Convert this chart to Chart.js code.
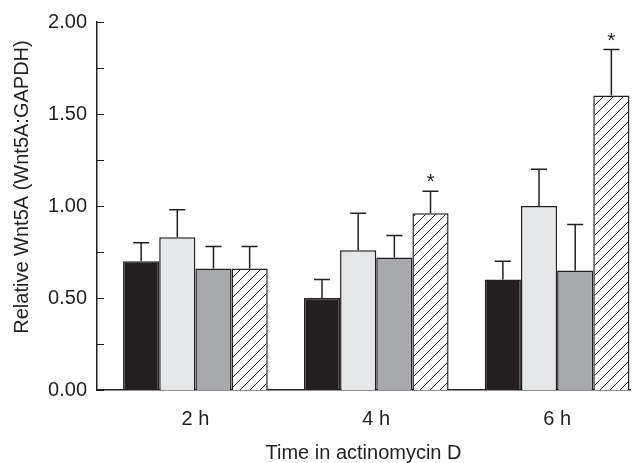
<!DOCTYPE html>
<html>
<head>
<meta charset="utf-8">
<script src="https://cdn.jsdelivr.net/npm/chart.js@4"></script>
<style>
  html, body { margin: 0; padding: 0; background: #fff; }
  #wrap { width: 638px; height: 463px; }
</style>
</head>
<body>
<div id="wrap"><canvas id="chart" width="638" height="463"></canvas></div>
<script>
// data
const categories = ['2 h', '4 h', '6 h'];
const blackVals = [0.70, 0.50, 0.60];
const blackErr = [0.10, 0.10, 0.10];
const lightVals = [0.83, 0.76, 1.00];
const lightErr = [0.15, 0.20, 0.20];
const greyVals = [0.66, 0.72, 0.65];
const greyErr = [0.12, 0.12, 0.25];
const hatchVals = [0.66, 0.96, 1.60];
const hatchErr = [0.12, 0.12, 0.25];
const hatchStars = ['', '*', '*'];

const yTitle = 'Relative Wnt5A (Wnt5A:GAPDH)';
const xTitle = 'Time in actinomycin D';

const ink = '#231f20';
const font = '"Liberation Sans", Arial, Helvetica, sans-serif';

// diagonal hatch fill
function makeHatch() {
    let c = document.createElement('canvas');
    c.width = 10;
    c.height = 10;
    let g = c.getContext('2d');
    g.fillStyle = '#fff';
    g.fillRect(0, 0, 10, 10);
    g.strokeStyle = ink;
    g.lineWidth = 1;
    g.beginPath();
    g.moveTo(0, 10); g.lineTo(10, 0);
    g.moveTo(-5, 5); g.lineTo(5, -5);
    g.moveTo(5, 15); g.lineTo(15, 5);
    g.stroke();
    return g.createPattern(c, 'repeat');
}

function series(vals) {
    return vals.map((v, i) => ({ x: i + 1, y: v }));
}

const errors = [blackErr, lightErr, greyErr, hatchErr];
const stars = [null, null, null, hatchStars];

// error bars (upper only) + significance stars
const errorBars = {
    id: 'errorBars',
    afterDatasetsDraw(chart) {
        const ctx = chart.ctx;
        const yScale = chart.scales.y;
        ctx.save();
        ctx.strokeStyle = ink;
        ctx.lineWidth = 1.5;
        chart.data.datasets.forEach((ds, di) => {
            const meta = chart.getDatasetMeta(di);
            meta.data.forEach((bar, j) => {
                const top = ds.data[j].y + errors[di][j];
                const yT = yScale.getPixelForValue(top);
                ctx.beginPath();
                ctx.moveTo(bar.x, bar.y);
                ctx.lineTo(bar.x, yT);
                ctx.moveTo(bar.x - 8, yT);
                ctx.lineTo(bar.x + 8, yT);
                ctx.stroke();
                if (stars[di] && stars[di][j]) {
                    ctx.fillStyle = ink;
                    ctx.font = '21px ' + font;
                    ctx.textAlign = 'center';
                    ctx.textBaseline = 'alphabetic';
                    ctx.fillText(stars[di][j], bar.x, yT - 3);
                }
            });
        });
        ctx.restore();
    }
};

// inward tick marks on y axis + rotated y title
const axisDecor = {
    id: 'axisDecor',
    afterDraw(chart) {
        const ctx = chart.ctx;
        const y = chart.scales.y;
        const left = chart.chartArea.left;
        ctx.save();
        ctx.strokeStyle = ink;
        ctx.lineWidth = 1.2;
        ctx.beginPath();
        y.ticks.forEach(t => {
            const py = Math.round(y.getPixelForValue(t.value)) + 0.5;
            ctx.moveTo(left, py);
            ctx.lineTo(left + 7, py);
        });
        ctx.stroke();
        ctx.translate(22, 187);
        ctx.rotate(-Math.PI / 2);
        ctx.fillStyle = ink;
        ctx.font = '20px ' + font;
        ctx.textAlign = 'center';
        ctx.textBaseline = 'middle';
        ctx.fillText(yTitle, 0, 0);
        ctx.restore();
    }
};

const hatch = makeHatch();

new Chart(document.getElementById('chart'), {
    type: 'bar',
    data: {
        datasets: [
            { data: series(blackVals), backgroundColor: ink },
            { data: series(lightVals), backgroundColor: '#e6e7e8' },
            { data: series(greyVals), backgroundColor: '#a7a9ac' },
            { data: series(hatchVals), backgroundColor: hatch }
        ]
    },
    options: {
        responsive: false,
        animation: false,
        devicePixelRatio: 1,
        layout: { padding: { top: 18, right: 8, left: 0, bottom: 0 } },
        datasets: {
            bar: {
                borderColor: ink,
                borderWidth: 1.5,
                categoryPercentage: 0.8,
                barPercentage: 1
            }
        },
        plugins: {
            legend: { display: false },
            tooltip: { enabled: false }
        },
        scales: {
            x: {
                type: 'linear',
                offset: false,
                min: 0.456,
                max: 3.403,
                grid: { display: false, drawTicks: false },
                border: { display: true, color: ink, width: 1.5 },
                afterBuildTicks: (scale) => {
                    scale.ticks = categories.map((c, i) => ({ value: i + 1 }));
                },
                afterFit: (scale) => { scale.height = 73; },
                ticks: {
                    autoSkip: false,
                    maxRotation: 0,
                    padding: 17,
                    color: ink,
                    font: { family: font, size: 20 },
                    callback: (v) => categories[v - 1]
                },
                title: {
                    display: true,
                    text: xTitle,
                    color: ink,
                    font: { family: font, size: 20 },
                    padding: { top: 4, bottom: -2 }
                }
            },
            y: {
                min: 0,
                max: 2,
                grid: { display: false, drawTicks: false },
                border: { display: true, color: ink, width: 1.5 },
                afterFit: (scale) => { scale.width = 97; },
                ticks: {
                    stepSize: 0.25,
                    autoSkip: false,
                    padding: 10,
                    color: ink,
                    font: { family: font, size: 20 },
                    callback: (v) => (v % 0.5 === 0 ? v.toFixed(2) : '')
                }
            }
        }
    },
    plugins: [errorBars, axisDecor]
});
</script>
</body>
</html>
